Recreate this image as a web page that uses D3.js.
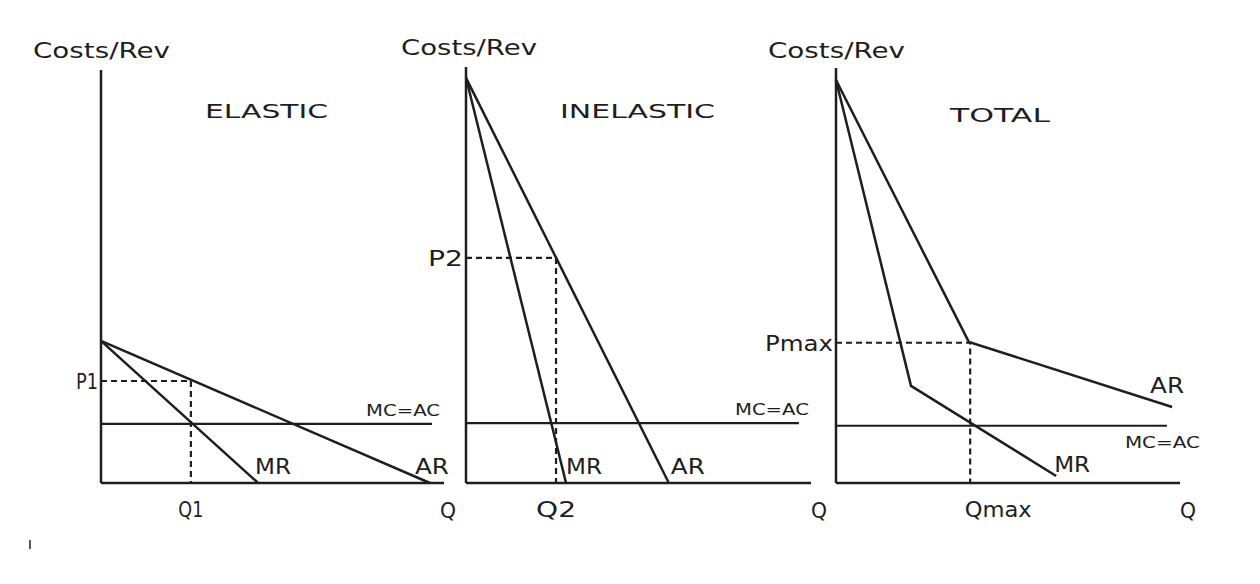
<!DOCTYPE html>
<html><head><meta charset="utf-8">
<script src="https://cdn.jsdelivr.net/npm/d3@7"></script>
<style>
html,body{margin:0;padding:0;background:#fff;}
svg text{font-family:"DejaVu Sans",sans-serif;fill:#1e1e1e;}
</style></head>
<body><svg id="c" width="1260" height="584"></svg>
<script>
// ---- data (quantity 0-100, price 0-100 per panel) ----
const panelTitles = ["ELASTIC", "INELASTIC", "TOTAL"];
const yAxisLabel = "Costs/Rev";
const xAxisLabel = "Q";
const mcLabel = "MC=AC";
const priceLabels = ["P1", "P2", "Pmax"];
const qtyLabels = ["Q1", "Q2", "Qmax"];

// AR (average revenue / demand) curves
const arElastic   = [[0, 34.4], [95.9, 0]];
const arInelastic = [[0, 97.4], [58.8, 0]];
const arTotal     = [[0, 97.1], [38.6, 34.0], [97.7, 18.3]];
// MR curves
const mrElastic   = [[0, 34.4], [45.8, 0]];
const mrInelastic = [[0, 97.4], [29.0, 0]];
const mrTotal     = [[0, 97.1], [21.8, 23.4], [64.0, 1.7]];
// MC = AC level and extent
const mcLevel = [14.3, 14.4, 13.8];
const mcEnd   = [96.5, 96.5, 96.2];
// equilibrium price / quantity
const eqPrice = [24.7, 54.1, 33.8];
const eqQty   = [26.2, 26.1, 39.0];

const ar = [arElastic, arInelastic, arTotal];
const mr = [mrElastic, mrInelastic, mrTotal];

// ---- layout ----
const panels = [
  {x0: 101, x1: 444, yTop: 70},
  {x0: 466, x1: 811, yTop: 67},
  {x0: 836, x1: 1180, yTop: 68}
];
const yBase = 483;
const ink = "#1e1e1e";
const svg = d3.select("#c");
const line = d3.line();

const titleBoxes = [[205, 328], [560, 715], [950, 1050]];
const yLabelBoxes = [[33, 170], [401, 537], [768, 905]];
const priceLabelW = [22, 35, 68];
const qtyLabelW = [25, 40, 67];

panels.forEach((p, i) => {
  const x = d3.scaleLinear().domain([0, 100]).range([p.x0, p.x1]);
  const y = d3.scaleLinear().domain([0, 100]).range([yBase, p.yTop]);
  const g = svg.append("g");
  const lx = d => line(d.map(v => [x(v[0]), y(v[1])]));

  // axes
  g.append("line").attr("x1", x(0)).attr("x2", x(0)).attr("y1", y(100)).attr("y2", y(0))
    .attr("stroke", ink).attr("stroke-width", 2.5);
  g.append("line").attr("x1", x(0)).attr("x2", x(100)).attr("y1", y(0)).attr("y2", y(0))
    .attr("stroke", ink).attr("stroke-width", 2.5);

  // MC=AC
  g.append("path").attr("d", lx([[0, mcLevel[i]], [mcEnd[i], mcLevel[i]]]))
    .attr("stroke", ink).attr("stroke-width", 2.2).attr("fill", "none");

  // dashed guides
  g.append("path").attr("d", lx([[0, eqPrice[i]], [eqQty[i], eqPrice[i]], [eqQty[i], 0]]))
    .attr("stroke", ink).attr("stroke-width", 2.2).attr("fill", "none").attr("stroke-dasharray", "6,4");

  // AR, MR
  g.append("path").attr("d", lx(ar[i])).attr("stroke", ink).attr("stroke-width", 2.5).attr("fill", "none");
  g.append("path").attr("d", lx(mr[i])).attr("stroke", ink).attr("stroke-width", 2.5).attr("fill", "none");

  // texts
  const tb = titleBoxes[i];
  g.append("text").attr("x", tb[0]).attr("y", i === 2 ? 122 : 118).attr("font-size", 20)
    .attr("textLength", tb[1] - tb[0]).attr("lengthAdjust", "spacingAndGlyphs").text(panelTitles[i]);
  const yb = yLabelBoxes[i];
  g.append("text").attr("x", yb[0]).attr("y", i === 1 ? 55 : 58).attr("font-size", 22)
    .attr("textLength", yb[1] - yb[0]).attr("lengthAdjust", "spacingAndGlyphs").text(yAxisLabel);

  // Q label
  g.append("text").attr("x", x(100) + (i === 0 ? -4 : 0)).attr("y", 518).attr("font-size", 21)
    .attr("textLength", 16).attr("lengthAdjust", "spacingAndGlyphs").text(xAxisLabel);
  // quantity label
  g.append("text").attr("x", x(eqQty[i]) - qtyLabelW[i] / 2 + (i === 2 ? 25 : 0) - (i === 2 ? 25 - 28 : 0))
    .attr("y", 517).attr("font-size", 21)
    .attr("textLength", qtyLabelW[i]).attr("lengthAdjust", "spacingAndGlyphs").text(qtyLabels[i]);
  // price label
  g.append("text").attr("x", x(0) - 3 - priceLabelW[i]).attr("y", y(eqPrice[i]) + 8).attr("font-size", 21)
    .attr("textLength", priceLabelW[i]).attr("lengthAdjust", "spacingAndGlyphs").text(priceLabels[i]);

  // AR / MR labels
  const arEnd = ar[i][ar[i].length - 1];
  const mrEndP = mr[i][mr[i].length - 1];
  if (i === 2) {
    g.append("text").attr("x", x(arEnd[0]) - 22).attr("y", y(arEnd[1]) - 14).attr("font-size", 21)
      .attr("textLength", 34).attr("lengthAdjust", "spacingAndGlyphs").text("AR");
    g.append("text").attr("x", x(mrEndP[0]) - 2).attr("y", y(mrEndP[1]) - 4).attr("font-size", 21)
      .attr("textLength", 36).attr("lengthAdjust", "spacingAndGlyphs").text("MR");
    g.append("text").attr("x", x(mcEnd[i]) - 42).attr("y", y(mcLevel[i]) + 22).attr("font-size", 16)
      .attr("textLength", 75).attr("lengthAdjust", "spacingAndGlyphs").text(mcLabel);
  } else {
    g.append("text").attr("x", x(arEnd[0]) + (i === 0 ? -15 : 2)).attr("y", y(0) - 9).attr("font-size", 21)
      .attr("textLength", 34).attr("lengthAdjust", "spacingAndGlyphs").text("AR");
    g.append("text").attr("x", x(mrEndP[0]) + (i === 0 ? -3 : 0)).attr("y", y(0) - 9).attr("font-size", 21)
      .attr("textLength", 36).attr("lengthAdjust", "spacingAndGlyphs").text("MR");
    g.append("text").attr("x", x(mcEnd[i]) - (i === 0 ? 66 : 64)).attr("y", y(mcLevel[i]) - 8).attr("font-size", 16)
      .attr("textLength", 74).attr("lengthAdjust", "spacingAndGlyphs").text(mcLabel);
  }
});

// small stray mark at bottom left
svg.append("line").attr("x1", 30).attr("x2", 30).attr("y1", 540).attr("y2", 549)
  .attr("stroke", ink).attr("stroke-width", 1.5);
</script></body></html>
